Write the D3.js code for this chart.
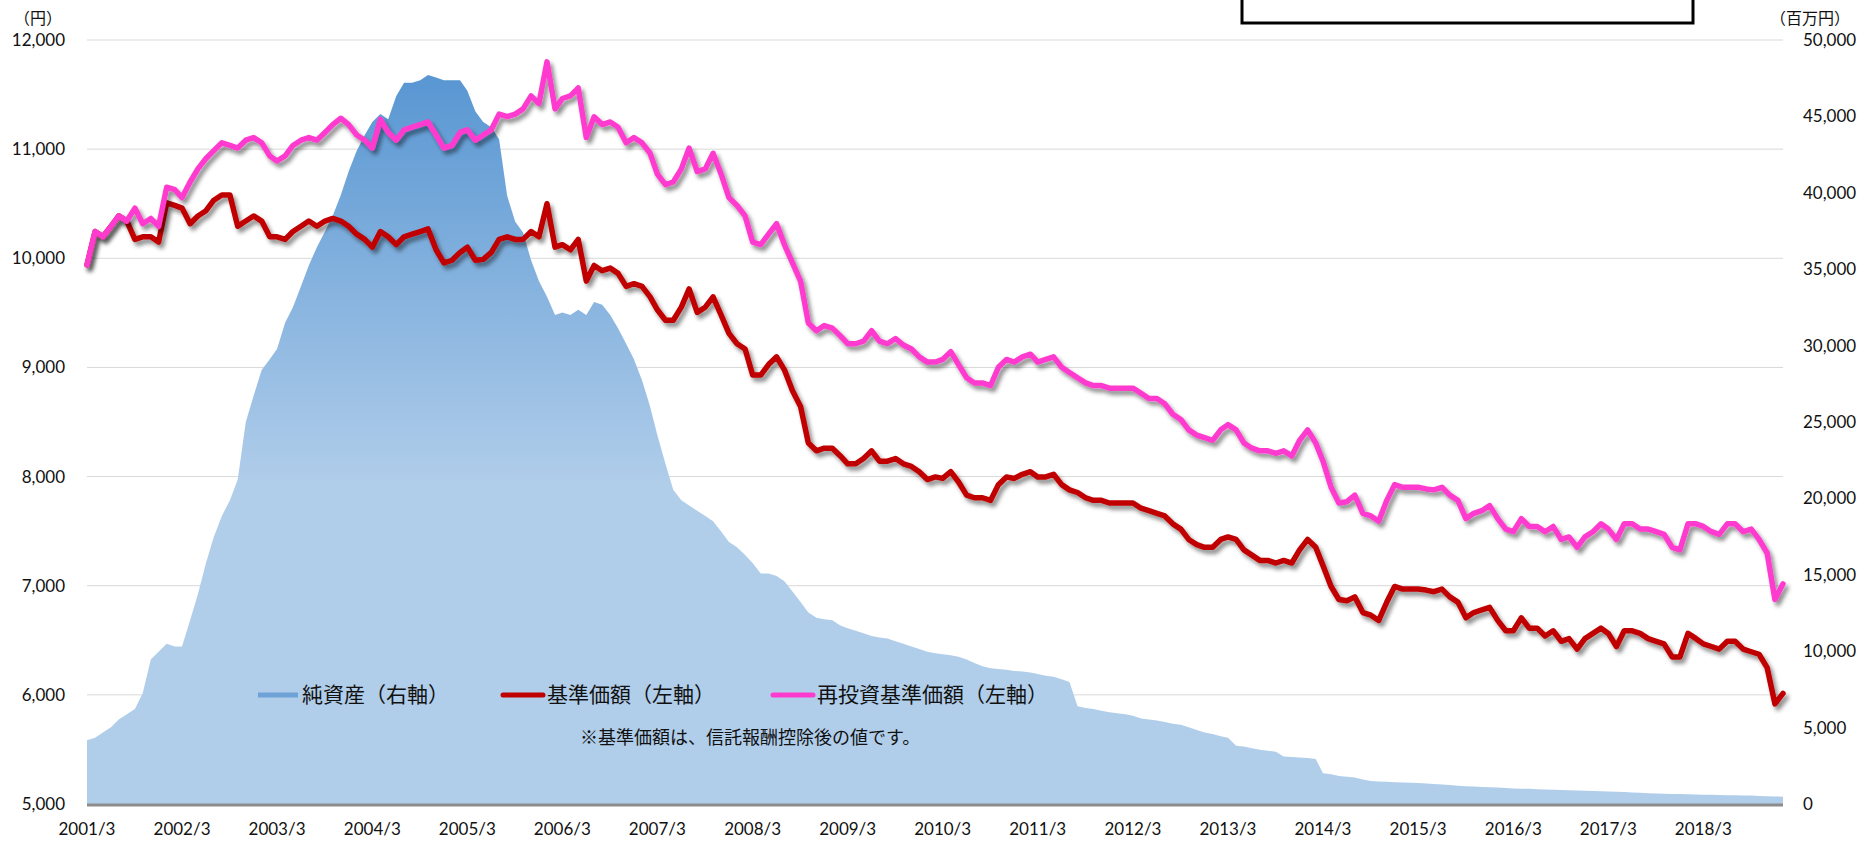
<html>
<head>
<meta charset="utf-8">
<title>基準価額・純資産の推移</title>
<script src="https://cdn.jsdelivr.net/npm/d3@7"></script>
<style>
body { margin: 0; background: #fff; }
text { font-family: Lato, "Noto Sans CJK JP", sans-serif; fill: #111; }
.cjk { font-family: "Noto Sans CJK JP", sans-serif; }
</style>
</head>
<body>
<script>

// monthly points, index 0 = 2001/3
var firstYear = 2001, firstMonth = 2;

// 基準価額 (円)
var navValues = [
  9940,10245,10197,10293,10388,10341,10173,10197,10197,10149,10508,10484,
  10460,10317,10388,10436,10532,10580,10580,10293,10341,10388,10341,10197,
  10197,10173,10245,10293,10341,10293,10341,10365,10341,10293,10221,10173,
  10102,10245,10197,10125,10197,10221,10245,10269,10078,9958,9982,10054,
  10102,9982,9990,10054,10173,10197,10173,10173,10245,10197,10500,10102,
  10125,10078,10173,9791,9934,9886,9910,9862,9743,9767,9743,9647,
  9528,9432,9432,9552,9719,9504,9552,9647,9480,9312,9217,9169,
  8930,8930,9026,9097,8978,8786,8643,8308,8236,8260,8260,8189,
  8117,8117,8165,8236,8141,8141,8165,8117,8093,8045,7973,7997,
  7983,8045,7950,7830,7806,7806,7782,7926,7997,7983,8021,8045,
  7997,7997,8021,7926,7878,7854,7806,7782,7782,7758,7758,7758,
  7758,7710,7687,7663,7639,7567,7519,7424,7376,7352,7352,7424,
  7447,7424,7328,7280,7232,7232,7208,7232,7208,7328,7424,7352,
  7184,6993,6874,6862,6898,6754,6730,6682,6850,6993,6969,6969,
  6969,6960,6945,6969,6898,6850,6706,6754,6778,6802,6682,6587,
  6587,6706,6611,6611,6539,6587,6491,6515,6419,6515,6563,6611,
  6563,6443,6587,6587,6563,6515,6491,6467,6348,6348,6563,6515,
  6467,6443,6419,6491,6491,6419,6395,6372,6250,5917,6013
];

// 再投資基準価額 (円)
var reinvestValues = [
  9940,10245,10197,10293,10388,10341,10460,10317,10365,10293,10651,10628,
  10556,10699,10819,10914,10986,11058,11034,11010,11082,11106,11058,10938,
  10891,10938,11034,11082,11106,11082,11153,11225,11283,11225,11130,11082,
  11010,11273,11153,11082,11177,11201,11225,11249,11130,11010,11034,11153,
  11177,11082,11130,11177,11321,11297,11321,11369,11488,11417,11800,11369,
  11464,11488,11560,11106,11297,11225,11249,11201,11058,11106,11058,10962,
  10771,10675,10699,10819,11010,10795,10819,10962,10771,10556,10484,10388,
  10149,10125,10221,10317,10125,9958,9791,9406,9336,9384,9360,9289,
  9217,9217,9241,9336,9241,9217,9265,9205,9169,9097,9049,9049,
  9073,9145,9026,8906,8858,8858,8834,9002,9073,9049,9097,9121,
  9049,9073,9097,9002,8954,8906,8858,8834,8834,8810,8810,8810,
  8810,8763,8715,8715,8667,8571,8523,8428,8380,8356,8332,8428,
  8476,8428,8308,8260,8236,8236,8213,8236,8189,8332,8428,8308,
  8141,7902,7758,7770,7830,7663,7639,7591,7782,7926,7902,7902,
  7902,7887,7878,7902,7830,7782,7615,7663,7687,7734,7615,7519,
  7495,7615,7543,7543,7495,7543,7424,7447,7352,7447,7495,7567,
  7519,7424,7567,7567,7519,7519,7495,7471,7352,7328,7567,7567,
  7543,7495,7471,7567,7567,7495,7519,7424,7300,6874,7017
];

// 純資産 (百万円)
var netAssetValues = [
  4170,4340,4680,5020,5530,5870,6220,7240,9460,9970,10480,10310,
  10310,12020,13730,15780,17480,18850,19880,21240,25000,26710,28410,29100,
  29780,31490,32510,33880,35240,36440,37460,38490,39850,41390,42760,43780,
  44630,45150,44810,46340,47200,47200,47370,47710,47540,47370,47370,47370,
  46680,45320,44630,44290,43500,39800,38100,37400,35580,34220,33190,32000,
  32170,32000,32340,32000,32850,32680,32000,31140,30120,29100,27730,26020,
  24140,22270,20560,19880,19530,19190,18850,18510,17830,17140,16800,16290,
  15780,15090,15090,14920,14580,13900,13220,12530,12190,12090,12020,11680,
  11510,11340,11170,11000,10890,10830,10650,10480,10310,10140,9970,9870,
  9800,9730,9630,9460,9220,9020,8880,8840,8780,8710,8670,8610,
  8500,8400,8330,8160,7990,6390,6280,6220,6110,6010,5940,5870,
  5770,5600,5530,5460,5360,5260,5190,5020,4850,4680,4580,4440,
  4340,3820,3760,3650,3550,3480,3420,3110,3070,3040,3010,2940,
  2010,1950,1840,1780,1740,1610,1500,1470,1450,1430,1410,1390,
  1370,1340,1310,1280,1240,1200,1160,1140,1120,1100,1080,1050,
  1020,1000,990,970,950,940,920,900,880,870,850,840,
  820,800,780,760,740,710,680,670,660,650,640,620,
  610,600,590,580,570,560,550,530,510,490,480
];

var leftTicks = [5000, 6000, 7000, 8000, 9000, 10000, 11000, 12000];
var rightTicks = [0, 5000, 10000, 15000, 20000, 25000, 30000, 35000, 40000, 45000, 50000];
var yearTicks = [2001, 2002, 2003, 2004, 2005, 2006, 2007, 2008, 2009, 2010, 2011, 2012, 2013, 2014, 2015, 2016, 2017, 2018];

var legendItems = [
  {label: '純資産（右軸）', color: '#6fa3d8', x: 258},
  {label: '基準価額（左軸）', color: '#c00000', x: 503},
  {label: '再投資基準価額（左軸）', color: '#ff3bcf', x: 773}
];
var noteText = '※基準価額は、信託報酬控除後の値です。';

function monthDate(i) { return new Date(firstYear, firstMonth + i, 1); }

function makeChart() {
  var width = 1876, height = 850;
  var plot = {left: 87, right: 1783, top: 40, bottom: 804};

  var svg = d3.select('body').append('svg')
      .attr('width', width)
      .attr('height', height);

  var defs = svg.append('defs');
  var shadow = defs.append('filter')
      .attr('id', 'shadow')
      .attr('filterUnits', 'userSpaceOnUse')
      .attr('x', 0).attr('y', 0).attr('width', width).attr('height', height);
  shadow.append('feDropShadow')
      .attr('dx', 3).attr('dy', 4).attr('stdDeviation', 2)
      .attr('flood-color', '#000').attr('flood-opacity', 0.45);

  var grad = defs.append('linearGradient')
      .attr('id', 'areaFill')
      .attr('gradientUnits', 'userSpaceOnUse')
      .attr('x1', 0).attr('x2', 0).attr('y1', 74).attr('y2', plot.bottom);
  grad.append('stop').attr('offset', 0).attr('stop-color', '#5896d2');
  grad.append('stop').attr('offset', 0.56).attr('stop-color', '#b0cdea');
  grad.append('stop').attr('offset', 1).attr('stop-color', '#b0cdea');

  var x = d3.scaleTime()
      .domain([monthDate(0), monthDate(navValues.length - 1)])
      .range([plot.left, plot.right]);
  var yLeft = d3.scaleLinear().domain([5000, 12000]).range([plot.bottom, plot.top]);
  var yRight = d3.scaleLinear().domain([0, 50000]).range([plot.bottom, plot.top]);

  // grid lines
  svg.append('g').selectAll('line')
      .data(leftTicks.slice(1))
      .enter().append('line')
        .attr('x1', plot.left).attr('x2', plot.right)
        .attr('y1', function(d) { return yLeft(d); })
        .attr('y2', function(d) { return yLeft(d); })
        .attr('stroke', '#d9d9d9').attr('stroke-width', 1);

  // net assets area
  var area = d3.area()
      .x(function(d, i) { return x(monthDate(i)); })
      .y0(yRight(0))
      .y1(function(d) { return yRight(d); });
  svg.append('path')
      .datum(netAssetValues)
      .attr('d', area)
      .attr('fill', 'url(#areaFill)');

  // base line
  svg.append('line')
      .attr('x1', plot.left).attr('x2', plot.right)
      .attr('y1', plot.bottom + 1).attr('y2', plot.bottom + 1)
      .attr('stroke', '#8c8c8c').attr('stroke-width', 3);

  var line = d3.line()
      .x(function(d, i) { return x(monthDate(i)); })
      .y(function(d) { return yLeft(d); });

  svg.append('path')
      .datum(navValues)
      .attr('d', line)
      .attr('fill', 'none')
      .attr('stroke', '#c00000')
      .attr('stroke-width', 5.5)
      .attr('stroke-linejoin', 'round')
      .attr('stroke-linecap', 'round')
      .attr('filter', 'url(#shadow)');

  svg.append('path')
      .datum(reinvestValues)
      .attr('d', line)
      .attr('fill', 'none')
      .attr('stroke', '#ff3bcf')
      .attr('stroke-width', 5.5)
      .attr('stroke-linejoin', 'round')
      .attr('stroke-linecap', 'round')
      .attr('filter', 'url(#shadow)');

  // left axis labels
  svg.append('g').selectAll('text')
      .data(leftTicks)
      .enter().append('text')
        .attr('x', 65)
        .attr('y', function(d) { return yLeft(d); })
        .attr('dy', '0.35em')
        .attr('text-anchor', 'end')
        .style('font-size', '17px')
        .text(d3.format(','));

  // right axis labels
  svg.append('g').selectAll('text')
      .data(rightTicks)
      .enter().append('text')
        .attr('x', 1803)
        .attr('y', function(d) { return yRight(d); })
        .attr('dy', '0.35em')
        .style('font-size', '17px')
        .text(d3.format(','));

  // x axis labels
  svg.append('g').selectAll('text')
      .data(yearTicks)
      .enter().append('text')
        .attr('x', function(d) { return x(new Date(d, 2, 1)); })
        .attr('y', 829)
        .attr('dy', '0.35em')
        .attr('text-anchor', 'middle')
        .style('font-size', '17px')
        .text(function(d) { return d + '/3'; });

  // unit labels
  svg.append('text').attr('class', 'cjk')
      .attr('x', 14).attr('y', 18).attr('dy', '0.35em')
      .style('font-size', '16px').text('（円）');
  svg.append('text').attr('class', 'cjk')
      .attr('x', 1770).attr('y', 18).attr('dy', '0.35em')
      .style('font-size', '16px').text('（百万円）');

  // legend
  var legend = svg.append('g').selectAll('g')
      .data(legendItems)
      .enter().append('g')
        .attr('transform', function(d) { return 'translate(' + d.x + ',695)'; });
  legend.append('line')
      .attr('x1', 0).attr('x2', 40).attr('y1', 0).attr('y2', 0)
      .attr('stroke', function(d) { return d.color; })
      .attr('stroke-width', 5)
      .attr('stroke-linecap', function(d, i) { return i === 0 ? 'butt' : 'round'; });
  legend.append('text')
      .attr('class', 'cjk')
      .attr('x', 44).attr('dy', '0.35em')
      .style('font-size', '21px')
      .text(function(d) { return d.label; });

  svg.append('text')
      .attr('class', 'cjk')
      .attr('x', 580).attr('y', 738).attr('dy', '0.35em')
      .style('font-size', '18px')
      .text(noteText);

  // box at the top, cut by the edge
  svg.append('rect')
      .attr('x', 1242).attr('y', -10)
      .attr('width', 451).attr('height', 33)
      .attr('fill', '#fff')
      .attr('stroke', '#000')
      .attr('stroke-width', 3);
}

makeChart();

</script>
</body>
</html>
